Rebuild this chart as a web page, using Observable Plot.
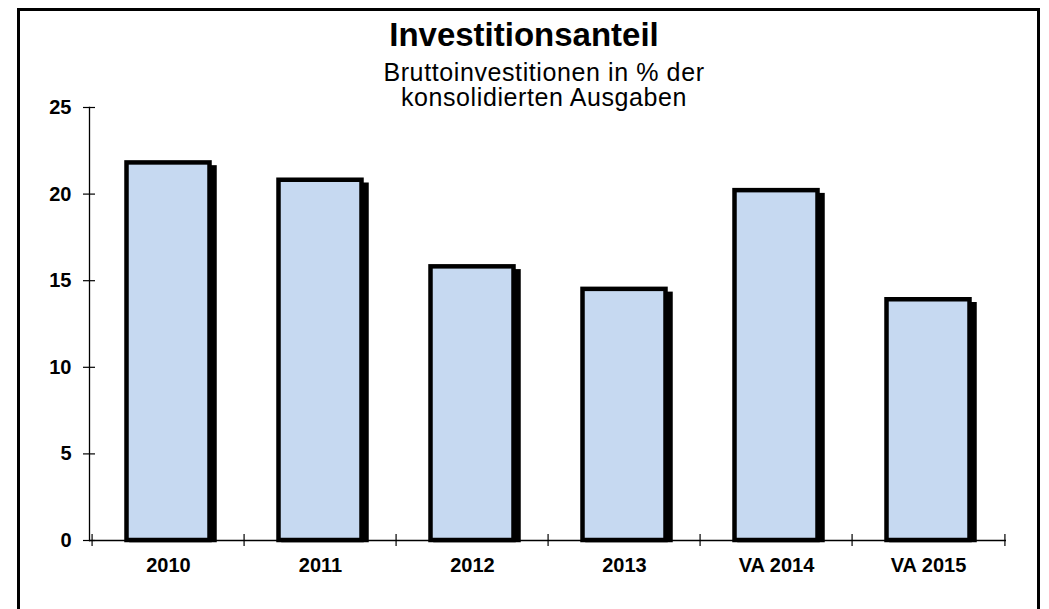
<!DOCTYPE html>
<html>
<head>
<meta charset="utf-8">
<script src="https://cdn.jsdelivr.net/npm/d3@7"></script>
<script src="https://cdn.jsdelivr.net/npm/@observablehq/plot@0.6"></script>
<style>
  html, body { margin: 0; padding: 0; overflow: hidden; background: #fff; }
  #wrap { position: relative; width: 1049px; height: 609px; overflow: hidden; background: #fff; font-family: "Liberation Sans", Arial, sans-serif; }
  #frame { position: absolute; left: 17px; top: 8px; width: 1017px; height: 640px; border: 3px solid #000; pointer-events: none; }
  .title { position: absolute; left: 0; width: 1048px; text-align: center; font-weight: bold; font-size: 33px; line-height: 1; top: 18px; color: #000; white-space: nowrap; }
  .subtitle { position: absolute; left: 40px; width: 1008px; text-align: center; font-size: 25px; letter-spacing: 0.6px; line-height: 25.7px; top: 59.5px; color: #000; white-space: nowrap; }
  #chart { position: absolute; left: 0; top: 0; }
</style>
</head>
<body>
<div id="wrap">
  <div id="chart"></div>
  <div class="title" id="title"></div>
  <div class="subtitle" id="subtitle"></div>
  <div id="frame"></div>
</div>
<script>
const categories = ["2010", "2011", "2012", "2013", "VA 2014", "VA 2015"];
const values = [21.8, 20.8, 15.8, 14.5, 20.2, 13.9];
const yTicks = [0, 5, 10, 15, 20, 25];
const titleText = "Investitionsanteil";
const subtitleLines = ["Bruttoinvestitionen in % der", "konsolidierten Ausgaben"];

document.getElementById("title").textContent = titleText;
const sub = document.getElementById("subtitle");
subtitleLines.forEach((t, i) => {
  const d = document.createElement("div");
  d.textContent = t;
  sub.appendChild(d);
});

const data = categories.map((c, i) => ({category: c, value: values[i]}));

const W = 1049, H = 609, ML = 89, MR = 43, MT = 107, MB = 69;
const step = (W - ML - MR) / categories.length;
const inset = 34.5;

const chart = Plot.plot({
  width: W,
  height: H,
  marginLeft: ML,
  marginRight: MR,
  marginTop: MT,
  marginBottom: MB,
  style: {background: "transparent", fontFamily: "Liberation Sans, Arial, sans-serif", fontSize: "20px", fontWeight: "bold", color: "#000"},
  x: {domain: categories, padding: 0, label: null},
  y: {domain: [0, 25], label: null},
  marks: [
    Plot.barY(data, {x: "category", y: "value", fill: "#000", stroke: "#000", strokeWidth: 4.5, insetLeft: inset, insetRight: inset, insetBottom: 5, dx: 5, dy: 5}),
    Plot.barY(data, {x: "category", y: "value", fill: "#c6d9f1", stroke: "#000", strokeWidth: 4.5, insetLeft: inset, insetRight: inset}),
    Plot.ruleY([0], {stroke: "#000", strokeWidth: 1.3}),
    Plot.frame({anchor: "left", stroke: "#000", strokeWidth: 1.3}),
    Plot.ruleX(categories, {x: d => d, y1: 0, y2: 0, dx: -step / 2, insetTop: -6, insetBottom: -6, stroke: "#000", strokeWidth: 1.2}),
    Plot.ruleX([categories[categories.length - 1]], {x: d => d, y1: 0, y2: 0, dx: step / 2, insetTop: -6, insetBottom: -6, stroke: "#000", strokeWidth: 1.2}),
    Plot.axisY({ticks: yTicks, tickSize: 12, dx: 6, tickPadding: 12, tickFormat: d => String(d), stroke: "#000", strokeOpacity: 1, strokeWidth: 1.2, label: null}),
    Plot.axisX({tickSize: 0, tickPadding: 17, label: null})
  ]
});
document.getElementById("chart").appendChild(chart);
</script>
</body>
</html>
